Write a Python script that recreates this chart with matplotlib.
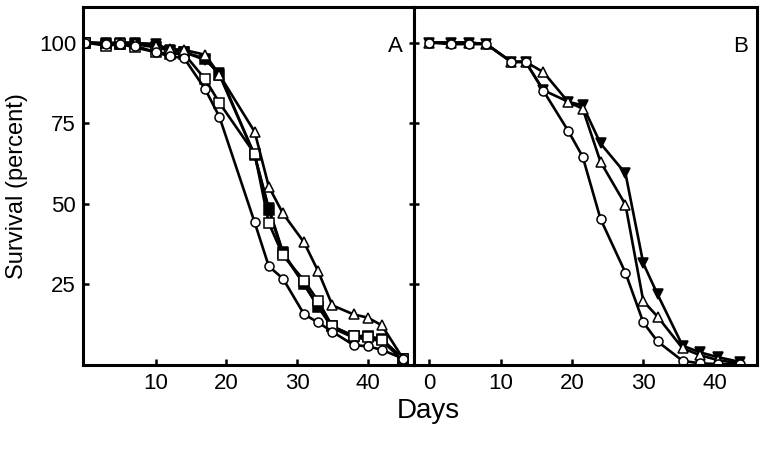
import matplotlib
matplotlib.use('Agg')
import matplotlib.pyplot as plt

plt.rcParams['font.family'] = ['Liberation Sans', 'DejaVu Sans']

# panel A
days_a = [0, 3, 5, 7, 10, 12, 14, 17, 19, 24, 26, 28, 31, 33, 35, 38, 40, 42, 45]
a_circle = [100, 99.5, 99.5, 99, 97, 95.7, 95.2, 85.5, 77, 44.2, 30.6, 26.8, 15.7, 13.2, 10.3, 6.2, 5.8, 4.7, 2]
a_square = [100, 99, 99.5, 98.5, 97, 96.5, 96.5, 88.6, 81.3, 65.5, 44, 34, 26.2, 19.8, 12, 9, 8.8, 7.8, 2]
a_fsquare = [100, 99.5, 99.5, 99.5, 98.5, 97.5, 97, 95, 90, 65, 48, 34.6, 25, 18, 12, 9, 9, 8, 2]
a_tridown = [100, 99.8, 99.8, 99.8, 99.6, 97.7, 97, 94.6, 90.5, 65, 48.6, 35, 25, 18, 11.5, 8.5, 8, 7.5, 1.5]
a_triup = [100, 99.8, 100, 100, 99, 98, 97.7, 96.2, 90, 72.3, 55.3, 47, 38, 29, 18.5, 15.7, 14.7, 12.3, 2]

# panel B
days_b = [0, 3, 5.5, 8, 11.5, 13.5, 16, 19.5, 21.5, 24, 27.5, 30, 32, 35.5, 38, 40.5, 43.5]
b_circle = [100, 99.5, 99.5, 99.5, 94, 94, 85, 72.5, 64.6, 45.3, 28.6, 13.2, 7.3, 1.3, 0.5, 0.3, 0.2]
b_triup = [100, 100, 100, 99.5, 94, 94, 90.8, 81.5, 79.5, 63, 49.7, 19.8, 15, 5.2, 3, 1.5, 0.5]
b_tridown = [100, 100, 100, 99.5, 94, 94, 85.2, 81.6, 80.5, 68.7, 59.4, 31.5, 21.9, 6, 3.9, 2.4, 1]

yticks = [25, 50, 75, 100]

fig = plt.figure(figsize=(7.66, 4.54), dpi=100)
axA = fig.add_axes([0.1084, 0.196, 0.4325, 0.7885])
axB = fig.add_axes([0.5409, 0.196, 0.447, 0.7885])

lw = 1.9
ms = 6.5
mew = 1.1


def draw(ax, x, y, marker, face):
    ax.plot(x, y, color='black', lw=lw, marker=marker, ms=ms,
            mfc=face, mec='black', mew=mew)


draw(axA, days_a, a_tridown, 'v', 'black')
draw(axA, days_a, a_fsquare, 's', 'black')
draw(axA, days_a, a_square, 's', 'white')
draw(axA, days_a, a_triup, '^', 'white')
draw(axA, days_a, a_circle, 'o', 'white')

draw(axB, days_b, b_tridown, 'v', 'black')
draw(axB, days_b, b_triup, '^', 'white')
draw(axB, days_b, b_circle, 'o', 'white')

axA.set_xlim(-0.3, 46.6)
axB.set_xlim(-2.1, 45.9)
for ax in (axA, axB):
    ax.set_ylim(0, 111)
    ax.set_yticks(yticks)
    for s in ax.spines.values():
        s.set_linewidth(2.2)
    ax.tick_params(axis='both', direction='in', length=4, width=1.8,
                   labelsize=16, pad=6)

axA.set_xticks([10, 20, 30, 40])
axB.set_xticks([0, 10, 20, 30, 40])
axA.tick_params(axis='y', pad=5)
axB.tick_params(axis='y', direction='inout', length=7, labelleft=False)

axA.set_ylabel('Survival (percent)', fontsize=17, labelpad=8)
fig.text(0.559, 0.095, 'Days', fontsize=20, ha='center', va='center')

axA.text(0.942, 0.891, 'A', transform=axA.transAxes, fontsize=16,
         ha='center', va='center')
axB.text(0.954, 0.891, 'B', transform=axB.transAxes, fontsize=16,
         ha='center', va='center')

fig.savefig('out.png', dpi=100)
